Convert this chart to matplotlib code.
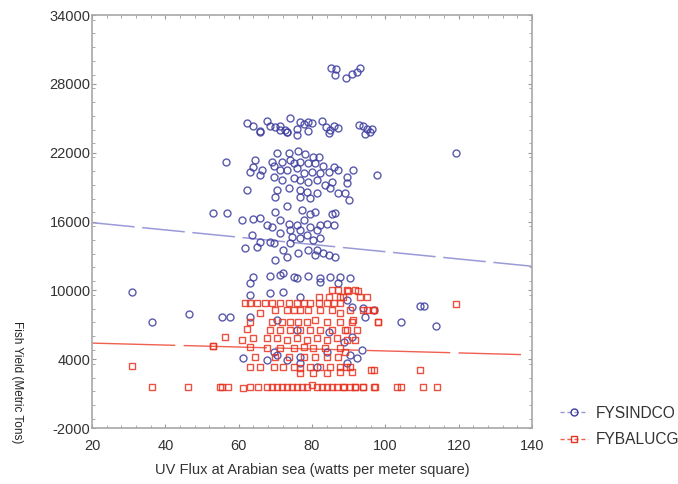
import matplotlib
matplotlib.use("Agg")
import matplotlib.pyplot as plt
from matplotlib.lines import Line2D
from matplotlib.ticker import MultipleLocator

plt.rcParams['font.family'] = ['Liberation Sans', 'DejaVu Sans']
plt.rcParams['axes.unicode_minus'] = False

# ---------------- data ----------------
blue_x = [30.8, 36.4, 46.5, 55.5, 57.5, 109.5, 110.5, 104.3, 113.8, 119.3, 97.7, 53.0, 56.8, 56.5,
          85.3, 86.6, 86.2, 89.4, 90.8, 92.2, 93.1,
          62.2, 64.0, 65.7, 67.7, 68.6, 70.0, 71.3, 72.7, 73.3, 74.0, 75.9, 76.8, 77.7, 79.0, 80.0,
          82.7, 83.9, 85.0, 85.9, 87.0, 92.7, 94.0, 95.0, 96.3,
          65.7, 71.3, 73.1, 75.8, 79.0, 84.5, 94.5, 95.9,
          70.4, 73.6, 76.3, 78.1, 80.4, 81.8, 64.5, 69.0, 71.8, 74.0, 75.0, 76.8, 79.0, 80.9, 83.1,
          85.9, 64.0, 66.3, 63.1, 69.5, 71.3, 73.1, 75.8, 77.7, 80.0, 82.2, 84.5, 87.2, 91.3,
          65.9, 69.5, 71.8, 75.0, 76.8, 79.0, 81.3, 83.6, 85.4, 89.5, 89.5, 62.2, 70.4, 73.6, 76.8,
          78.6, 81.3, 85.0, 87.2, 89.0, 70.0, 76.8, 79.5, 90.0,
          60.9, 64.0, 65.9, 70.0, 73.1, 77.2, 79.5, 80.9, 85.4, 86.3, 67.7, 69.0, 71.3, 73.6, 75.8,
          77.7, 79.5, 82.2, 84.0, 85.9, 74.0, 76.8, 81.3,
          63.6, 65.9, 68.6, 71.3, 74.5, 76.8, 78.6, 80.4, 82.2, 61.8, 65.0, 69.5, 72.2, 74.0, 76.3,
          79.0, 81.3, 83.1, 84.5, 86.3, 70.0, 73.1, 80.9,
          64.0, 68.6, 72.2, 75.0, 79.0, 82.2, 85.0, 87.7, 90.4,
          63.1, 71.3, 75.9, 82.2, 87.2, 63.1, 68.6, 72.2, 76.8, 89.5, 90.9, 94.0, 94.5, 96.8,
          63.1, 70.4, 75.9, 84.5, 88.6, 90.9, 61.3, 67.7, 70.4, 73.1, 76.8, 84.0, 90.4, 92.2,
          93.6, 89.5, 76.8, 81.3, 69.5]
blue_y = [9850, 7250, 7900, 7700, 7700, 8600, 8600, 7250, 6900, 21950, 20050, 16700, 16700, 21150,
          29400, 29300, 28800, 28500, 28900, 29000, 29400,
          24611, 24320, 23913, 24785, 24320, 24204, 24320, 23971, 23826, 24989, 24029, 24698, 24495,
          24698, 24611, 24756, 24204, 23971, 24320, 24117, 24407, 24320, 24029, 24029,
          23825, 23970, 23825, 23535, 23883, 23680, 23620, 23825,
          21990, 21990, 22166, 21875, 21642, 21584, 21351, 21206, 21206, 21351, 21060, 21206, 21060,
          21060, 20827, 20769, 20769, 20478, 20333, 20827, 20478, 20478, 20624, 20188, 20333, 20188,
          20333, 20478, 20478,
          20042, 19897, 19606, 19751, 19606, 19460, 19606, 19170, 19460, 19897, 19315, 18732, 18732,
          18878, 18732, 18587, 18441, 18878, 18441, 18441, 18150, 18150, 18005, 17860,
          16113, 16259, 16346, 16840, 17335, 17044, 16695, 16840, 16695, 16753, 15686, 15541, 16113,
          15822, 15686, 16113, 15541, 15686, 15822, 15686, 15250, 15250, 15250,
          14813, 14232, 14232, 14959, 14668, 14523, 14813, 14377, 14523, 13650, 13796, 14087, 13504,
          14087, 13213, 13504, 13504, 13213, 13068, 12922, 12631, 12922, 13068,
          11180, 11238, 11470, 11180, 11238, 11035, 11120, 11180, 11035,
          10601, 11328, 11037, 10747, 10601, 9584, 9729, 9874, 9438, 9148, 8566, 8421, 7694, 8276,
          7694, 7403, 6531, 6386, 5514, 5950, 4060, 3915, 4351, 3915, 4206, 4642, 4351, 4060,
          4787, 3624, 3624, 3334, 4642]

red_x = [30.8, 52.9, 36.3, 46.3, 54.9,
         119.4, 98.1, 96.7, 94.0, 96.2, 109.4, 88.5, 91.7, 94.0, 97.1, 104.4, 110.3, 114.0,
         89.9, 92.6, 94.9, 88.5, 90.8, 89.0, 89.0, 89.4, 90.8,
         85.4, 87.2, 89.5, 91.8, 93.1, 87.7, 84.5, 81.8,
         61.8, 63.1, 65.0, 67.2, 69.0, 71.3, 73.6, 75.9, 77.7, 79.5, 81.8, 84.0, 85.9, 87.7,
         65.9, 70.0, 73.1, 75.0, 76.8, 79.0, 82.2, 85.4, 87.7, 90.4, 95.0, 96.8,
         63.1, 69.0, 71.8, 74.0, 76.3, 78.6, 80.9, 84.0, 87.7, 91.3, 98.1,
         62.2, 68.6, 71.3, 74.0, 76.8, 79.5, 82.2, 85.4, 89.5, 92.2,
         56.3, 60.9, 64.0, 67.7, 70.4, 73.1, 75.9, 78.6, 81.3, 84.0, 86.8, 89.5, 91.8,
         53.1, 63.1, 67.7, 71.3, 75.0, 77.7, 80.4, 83.6, 87.7,
         64.5, 70.0, 73.6, 77.7, 80.9, 84.0, 87.2,
         63.1, 65.9, 69.5, 72.2, 75.0, 76.8, 79.5, 82.2, 85.0, 87.7, 90.4,
         76.8, 80.4, 84.0, 87.7, 96.8,
         55.4, 57.2, 61.3, 63.1, 65.4, 67.7, 69.0, 70.4, 71.8, 73.1, 74.5, 75.9, 77.2, 78.6, 80.0,
         81.3, 82.7, 84.0, 85.4, 86.8, 88.6, 90.4, 91.8, 94.0, 96.8, 103.1]
red_y = [3400, 5150, 1590, 1590, 1590,
         8850, 7250, 8280, 8280, 3040, 3040, 1590, 1590, 1590, 1590, 1590, 1590, 1590,
         9960, 9960, 9440, 9440, 7260, 6530, 4640, 3330, 2900,
         10020, 10020, 10020, 10020, 9438, 9438, 9438, 9438,
         8857, 8857, 8857, 8857, 8857, 8857, 8857, 8857, 8857, 8857, 8857, 8857, 8857, 8857,
         8043, 8276, 8276, 8276, 8276, 8276, 8276, 8276, 7985, 8276, 8276, 8276,
         7258, 7258, 7258, 7258, 7258, 7258, 7403, 7258, 7258, 7403, 7258,
         6590, 6531, 6531, 6531, 6531, 6531, 6531, 6531, 6531, 6531,
         5950, 5659, 5805, 5805, 5805, 5659, 5805, 5659, 5805, 5659, 5805, 5659, 5659,
         5136, 5078, 4932, 4932, 4932, 5078, 4932, 4932, 4932,
         4206, 4148, 4206, 4206, 4206, 4206, 4148,
         3334, 3334, 3334, 3334, 3334, 3188, 3334, 3334, 3334, 3334, 3334,
         2752, 2752, 2752, 2898, 3043,
         1590, 1590, 1444, 1590, 1590, 1590, 1590, 1590, 1590, 1590, 1590, 1590, 1590, 1590, 1735,
         1590, 1590, 1590, 1590, 1590, 1590, 1590, 1590, 1590, 1590, 1590]

fit_x = [20, 140]
blue_fit = [15900, 12100]
red_fit_x = [20, 137]
red_fit = [5400, 4400]

series_names = ['FYSINDCO', 'FYBALUCG']
x_ticks = [20, 40, 60, 80, 100, 120, 140]
y_ticks = [-2000, 4000, 10000, 16000, 22000, 28000, 34000]

# ---------------- figure ----------------
fig = plt.figure(figsize=(6.78, 4.84), dpi=100)
ax = fig.add_axes([92/678, 1-428/484, 440/678, 413/484])

blue_c = '#3d3d9e'
red_c = '#e8321f'

ax.plot(fit_x, blue_fit, color='#9a9ad8', lw=1.1, linestyle=(0, (28, 5)), zorder=1)
ax.plot(red_fit_x, red_fit, color='#f06050', lw=1.0, linestyle=(0, (60, 6)), zorder=1)

ax.plot(blue_x, blue_y, linestyle='none', marker='o', ms=5.0, mfc='none',
        mec=blue_c, mew=1.0, alpha=0.85, zorder=2)
ax.plot(red_x, red_y, linestyle='none', marker='s', ms=5.0, mfc='none',
        mec=red_c, mew=1.0, alpha=0.85, zorder=3)

ax.set_xlim(20, 140)
ax.set_ylim(-2000, 34000)
ax.set_xticks(x_ticks)
ax.set_yticks(y_ticks)
ax.xaxis.set_minor_locator(MultipleLocator(4))
ax.yaxis.set_minor_locator(MultipleLocator(1200))
ax.tick_params(which='both', direction='in', top=True, right=True, color='#9a9a9a',
               labelsize=10.5, labelcolor='#333333')
ax.tick_params(which='major', length=3, width=0.8)
ax.tick_params(which='minor', length=2, width=0.6)
ax.tick_params(axis='y', pad=1)
ax.tick_params(axis='x', pad=8)
for s in ax.spines.values():
    s.set_color('#a8a8a8')
    s.set_linewidth(1.2)

ax.set_xlabel('UV Flux at Arabian sea (watts per meter square)', fontsize=10.5,
              color='#333333', labelpad=7)
fig.text(17/678, 1-382/484, 'Fish Yield (Metric Tons)', rotation=270, fontsize=8.5,
         color='#222222', ha='center', va='center')

handles = [Line2D([0], [0], color='#9a9ad8', lw=1, linestyle=(0, (3, 2)), marker='o',
                  ms=5, mfc='none', mec=blue_c),
           Line2D([0], [0], color='#f06050', lw=1, linestyle=(0, (3, 2)), marker='s',
                  ms=5, mfc='none', mec=red_c)]
fig.legend(handles, series_names, loc='upper left', bbox_to_anchor=(555/678, 1-401/484),
           frameon=False, fontsize=11.2, handlelength=1.8, handletextpad=0.5,
           labelspacing=0.75, labelcolor='#333333', borderaxespad=0, borderpad=0.3)

fig.savefig('out.png', dpi=100)
